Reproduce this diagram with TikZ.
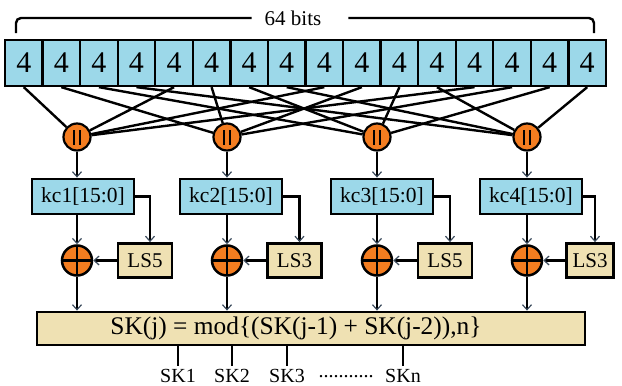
\documentclass[tikz,border=0pt]{standalone}
\usepackage{fontspec}
\setmainfont{Liberation Serif}
\usetikzlibrary{arrows.meta,calc}
\definecolor{cellblue}{HTML}{9CD8E9}
\definecolor{sandbox}{HTML}{EFE1B3}
\definecolor{orng}{HTML}{F47D20}
\definecolor{tipgray}{HTML}{3A4A5C}

\begin{document}
\begin{tikzpicture}[x=1pt,y=-1pt,
  wire/.style={line width=2.4pt},
  arr/.style={line width=2.4pt,-{Straight Barb[length=5pt,width=9pt,line width=1.2pt,color=tipgray]}},
  cell/.style={draw,line width=2.3pt,fill=cellblue,minimum width=37.56pt,minimum height=46pt,inner sep=0pt,
    font=\fontsize{30}{30}\selectfont},
  concat/.style={circle,draw,line width=2.2pt,fill=orng,minimum size=27pt,inner sep=0pt,
    path picture={
      \draw[line width=2.5pt] ([xshift=-2.8pt,yshift=-7.5pt]path picture bounding box.center) -- ++(0,15pt);
      \draw[line width=2.5pt] ([xshift=2.8pt,yshift=-7.5pt]path picture bounding box.center) -- ++(0,15pt);}},
  xorc/.style={circle,draw,line width=2.5pt,fill=orng,minimum size=30pt,inner sep=0pt,
    path picture={
      \draw[line width=2.4pt] (path picture bounding box.north) -- (path picture bounding box.south);
      \draw[line width=2.4pt] (path picture bounding box.west) -- (path picture bounding box.east);}},
  kcbox/.style={draw,line width=2.8pt,fill=cellblue,minimum width=102pt,minimum height=35pt,inner sep=0pt,
    font=\fontsize{21.5}{21.5}\selectfont},
  lsbox/.style={draw,line width=2.8pt,fill=sandbox,minimum width=54pt,minimum height=34pt,inner sep=0pt,
    font=\fontsize{21}{21}\selectfont},
  skbox/.style={draw,line width=2.8pt,fill=sandbox,minimum width=548pt,minimum height=33pt,inner sep=0pt},
  sktext/.style={inner sep=0pt,font=\fontsize{25.4}{25.4}\selectfont},
  outlbl/.style={inner xsep=0pt,inner ysep=3pt,font=\fontsize{20}{20}\selectfont}
]
\useasboundingbox (0,0) rectangle (622,386);

% 64-bit key register: sixteen 4-bit cells
\foreach \i in {0,...,15}
  \node[cell] (c\i) at ({23.78+37.5625*\i},63) {4};

% width brace
\node[inner sep=0pt,font=\fontsize{21}{21}\selectfont] (bits) at (293,18) {64 bits};
\draw[wire,rounded corners=5pt] ([xshift=-13pt]bits.west) -| (16,33);
\draw[wire,rounded corners=5pt] ([xshift=27pt]bits.east) -| (594,33);

% concatenation units
\foreach \j/\x in {0/77,1/227,2/377,3/527}
  \node[concat] (m\j) at (\x,137) {};

% nibble i feeds concatenation unit i mod 4
\foreach \i in {0,...,15} {
  \pgfmathtruncatemacro\m{mod(\i,4)}
  \draw[wire] (c\i.south) -- (m\m);
}

% round-constant registers, shifters and XORs
\foreach \j/\kx/\xx/\lx/\lw/\s in {0/83/77/145/54/5, 1/231/227/294.5/54/3, 2/382/377/445/54/5, 3/531/527/590/47/3} {
  \node[kcbox] (k\j) at (\kx,196.5) {kc\the\numexpr\j+1\relax[15:0]};
  \node[xorc] (x\j) at (\xx,260.5) {};
  \node[lsbox,minimum width=\lw pt] (l\j) at (\lx,260.5) {LS\s};
}

% output mixing stage
\node[skbox] (sk) at (311,328.5) {};
\node[sktext] (skt) at (296,328.5) {SK(j) = mod\{(SK(j-1) + SK(j-2)),n\}};

\foreach \j in {0,...,3} {
  \draw[arr] (m\j) -- (m\j |- k\j.north);
  \draw[arr] (k\j.south -| x\j) -- (x\j);
  \draw[arr] (k\j.east) -| ([xshift=5pt]l\j.north);
  \draw[arr] (l\j.west) -- (x\j);
  \draw[arr] (x\j) -- (x\j |- sk.north);
}

% subkey outputs
\foreach \x/\t in {178/SK1,232/SK2,287/SK3,403/SKn} {
  \node[outlbl] (o\t) at (\x,375.5) {\t};
  \draw[wire] (sk.south -| o\t) -- (o\t.north);
}
\node[outlbl] (dots) at (346,377) {...........};
\end{tikzpicture}
\end{document}
